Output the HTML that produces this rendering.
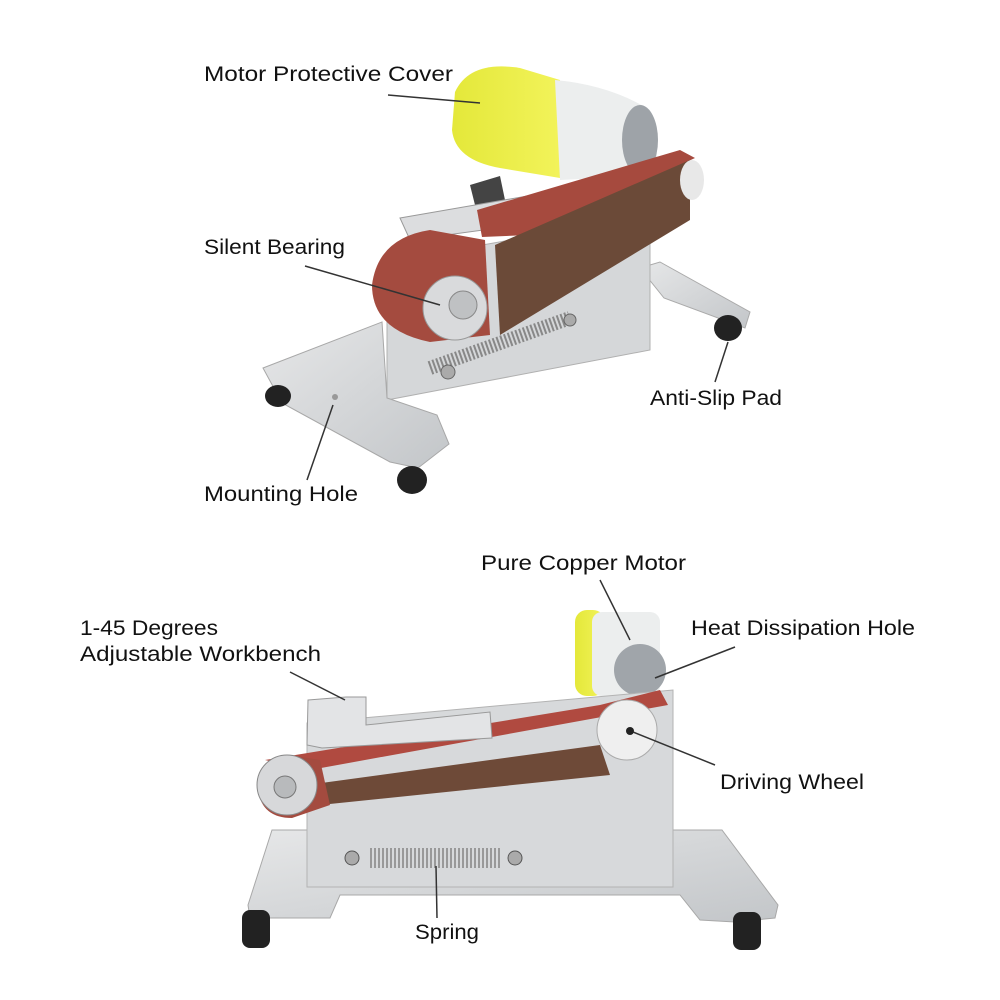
<!DOCTYPE html>
<html><head><meta charset="utf-8"><style>
html,body{margin:0;padding:0;background:#fff;}
svg{display:block;}
text{font-family:"Liberation Sans",sans-serif;font-size:21px;fill:#111;}
</style></head><body>
<svg width="1000" height="1000" viewBox="0 0 1000 1000" xmlns="http://www.w3.org/2000/svg">
<defs>
<linearGradient id="met" x1="0" y1="0" x2="1" y2="1"><stop offset="0" stop-color="#e6e7e8"/><stop offset="1" stop-color="#c3c6c9"/></linearGradient>
<linearGradient id="yel" x1="0" y1="0" x2="1" y2="0"><stop offset="0" stop-color="#e4e83a"/><stop offset="1" stop-color="#f2f35a"/></linearGradient>
</defs>
<!-- TOP IMAGE -->
<polygon points="640,268 660,262 750,312 745,328 664,298" fill="url(#met)" stroke="#aaa"/>
<ellipse cx="728" cy="328" rx="14" ry="13" fill="#222"/>
<polygon points="387,262 650,215 650,350 387,400" fill="#d5d7d9" stroke="#b0b0b0"/>
<polygon points="263,368 382,322 387,398 437,415 449,444 418,468 390,462 282,403" fill="url(#met)" stroke="#a8a8a8"/>
<ellipse cx="278" cy="396" rx="13" ry="11" fill="#222"/>
<ellipse cx="412" cy="480" rx="15" ry="14" fill="#222"/>
<circle cx="335" cy="397" r="3" fill="#999"/>
<path d="M455,92 Q470,60 520,68 L560,80 L560,178 L500,168 Q455,160 452,130 Z" fill="url(#yel)"/>
<path d="M555,80 Q610,85 650,110 L660,175 L560,180 Z" fill="#eceeee"/>
<ellipse cx="640" cy="140" rx="18" ry="35" fill="#9ea3a8"/>
<polygon points="470,185 500,176 505,200 475,205" fill="#444"/>
<polygon points="400,218 620,180 630,210 525,235 520,225 410,240" fill="#dcdddf" stroke="#999"/>
<polygon points="477,210 680,150 695,158 530,235 482,237" fill="#a64a3e"/>
<polygon points="495,245 690,160 690,220 500,335" fill="#6b4a38"/>
<path d="M430,230 L485,240 L490,335 L430,342 Q372,330 372,285 Q378,238 430,230 Z" fill="#a44b3f"/>
<circle cx="455" cy="308" r="32" fill="#d9dadc" stroke="#999"/>
<circle cx="463" cy="305" r="14" fill="#bfc1c3" stroke="#888"/>
<line x1="430" y1="368" x2="570" y2="318" stroke="#888" stroke-width="14" stroke-dasharray="2,2"/>
<circle cx="448" cy="372" r="7" fill="#aaa" stroke="#666"/>
<circle cx="570" cy="320" r="6" fill="#aaa" stroke="#666"/>
<ellipse cx="692" cy="180" rx="12" ry="20" fill="#e8e8e8"/>
<text x="204" y="81" textLength="249" lengthAdjust="spacingAndGlyphs">Motor Protective Cover</text>
<line x1="388" y1="95" x2="480" y2="103" stroke="#333" stroke-width="1.5"/>
<text x="204" y="254" textLength="141" lengthAdjust="spacingAndGlyphs">Silent Bearing</text>
<line x1="305" y1="266" x2="440" y2="305" stroke="#333" stroke-width="1.5"/>
<text x="650" y="405" textLength="132" lengthAdjust="spacingAndGlyphs">Anti-Slip Pad</text>
<line x1="715" y1="382" x2="728" y2="342" stroke="#333" stroke-width="1.5"/>
<text x="204" y="501" textLength="154" lengthAdjust="spacingAndGlyphs">Mounting Hole</text>
<line x1="307" y1="480" x2="333" y2="405" stroke="#333" stroke-width="1.5"/>

<!-- BOTTOM IMAGE -->
<polygon points="272,830 722,830 778,905 775,918 735,922 700,920 680,895 340,895 330,918 250,918 248,905" fill="url(#met)" stroke="#a8a8a8"/>
<rect x="242" y="910" width="28" height="38" rx="8" fill="#222"/>
<rect x="733" y="912" width="28" height="38" rx="8" fill="#222"/>
<rect x="575" y="610" width="30" height="86" rx="12" fill="url(#yel)"/>
<rect x="592" y="612" width="68" height="84" rx="10" fill="#eceeee"/>
<circle cx="640" cy="670" r="26" fill="#a0a5aa"/>
<polygon points="307,723 673,690 673,887 307,887" fill="#d7d9db" stroke="#b3b3b3"/>
<polygon points="265,760 600,705 660,690 668,705 310,770" fill="#b04a40"/>
<polygon points="270,790 600,745 610,775 320,805 270,805" fill="#6e4a38"/>
<path d="M290,755 Q255,760 258,790 Q262,818 292,818 L330,805 L320,760 Z" fill="#a44b3f"/>
<polygon points="308,700 346,697 366,697 366,725 490,712 492,738 322,748 307,745" fill="#e3e4e6" stroke="#999"/>
<circle cx="287" cy="785" r="30" fill="#d7d8da" stroke="#888"/>
<circle cx="285" cy="787" r="11" fill="#b8babc" stroke="#777"/>
<circle cx="627" cy="730" r="30" fill="#efefef" stroke="#aaa"/>
<circle cx="630" cy="731" r="4" fill="#222"/>
<line x1="370" y1="858" x2="502" y2="858" stroke="#999" stroke-width="20" stroke-dasharray="2,2"/>
<circle cx="352" cy="858" r="7" fill="#aaa" stroke="#555"/>
<circle cx="515" cy="858" r="7" fill="#aaa" stroke="#555"/>
<text x="481" y="570" textLength="205" lengthAdjust="spacingAndGlyphs">Pure Copper Motor</text>
<line x1="600" y1="580" x2="630" y2="640" stroke="#333" stroke-width="1.5"/>
<text x="691" y="635" textLength="224" lengthAdjust="spacingAndGlyphs">Heat Dissipation Hole</text>
<line x1="735" y1="647" x2="655" y2="678" stroke="#333" stroke-width="1.5"/>
<text x="80" y="635" textLength="138" lengthAdjust="spacingAndGlyphs">1-45 Degrees</text>
<text x="80" y="661" textLength="241" lengthAdjust="spacingAndGlyphs">Adjustable Workbench</text>
<line x1="290" y1="672" x2="345" y2="700" stroke="#333" stroke-width="1.5"/>
<text x="720" y="789" textLength="144" lengthAdjust="spacingAndGlyphs">Driving Wheel</text>
<line x1="715" y1="765" x2="633" y2="732" stroke="#333" stroke-width="1.5"/>
<text x="415" y="939" textLength="64" lengthAdjust="spacingAndGlyphs">Spring</text>
<line x1="437" y1="918" x2="436" y2="866" stroke="#333" stroke-width="1.5"/>
</svg>
</body></html>
